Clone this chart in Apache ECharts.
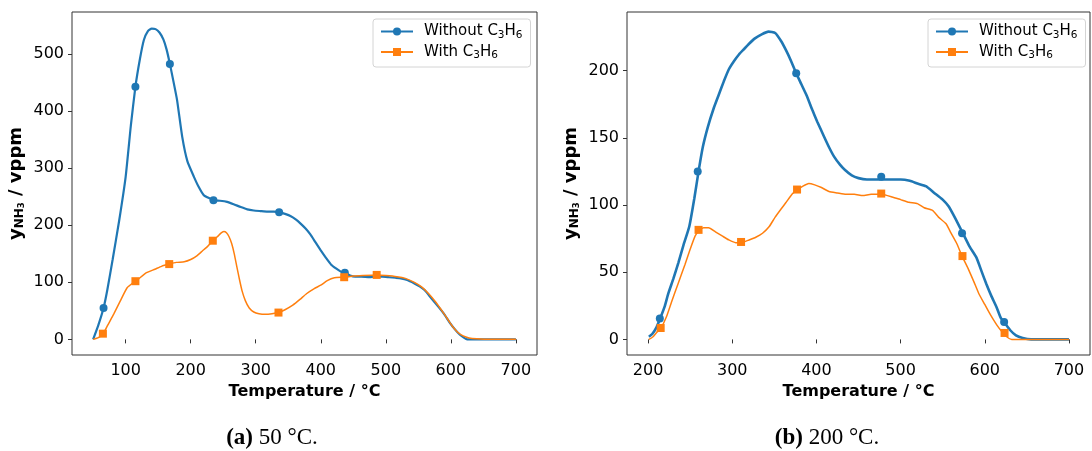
<!DOCTYPE html>
<html><head><meta charset="utf-8">
<script src="https://cdn.jsdelivr.net/npm/echarts@6/dist/echarts.min.js"></script>
<style>html,body{margin:0;padding:0;background:#fff}#c{width:1092px;height:451px}</style>
</head><body><div id="c"></div>
<script>
// ---------- Panel (a) 50 °C ----------
const xA_without = [50,58,66,72,80,90,100,108,115,122,128,134,140,146,152,158,163,168,173,179,187,195,205,212,220,235,245,256,266,277,287,297,307,318,328,336,345,354,362,369,377,384,392,400,408,416,424,432,437,445,453,462,475,485,495,505,515,523,533,544,552,560,570,581,590,598,606,614,620,625,635,650,700];
const yA_without = [0,25,55,88,140,208,285,375,443,492,525,540,545,544,538,526,508,483,455,420,355,312,285,268,253,244,243,241,237,232,228,226,225,224,224,223,220,216,210,203,194,184,170,156,143,131,124,118,117,112,110,110,109,110,110,109,108,107,104,98,93,86,72,57,44,30,18,8,3,0,0,0,0];
const xA_with = [50,58,65,72,82,92,102,110,115,122,132,145,155,167,178,190,200,210,218,226,234,241,246,251,255,259,263,267,271,275,279,284,290,297,305,315,325,335,345,357,368,378,390,400,410,421,436,450,465,486,500,517,530,544,555,566,577,587,596,603,610,619,628,640,660,700];
const yA_with = [0,3,9,24,45,68,90,98,101,108,117,123,128,132,135,136,140,147,155,163,173,180,186,189,187,180,168,150,127,105,85,68,55,48,45,44,45,47,52,60,70,80,89,95,103,108,109,111,112,113,112,110,107,100,92,80,65,49,34,22,13,6,2.5,1,0,0];
const mkA_without = [[66,55],[115,443],[168,483],[235,244],[336,223],[437,117]];
const mkA_with = [[65,10],[115,102],[167,132],[234,173],[335,47],[436,109],[486,113]];
const xTicksA = [100,200,300,400,500,600,700];
const yTicksA = [0,100,200,300,400,500];

// ---------- Panel (b) 200 °C ----------
const xB_without = [201,205,210,214,220,224,230,236,242,249,255,260,265,271,278,284,290,296,302,308,314,320,327,335,343,351,358,364,370,376,382,388,395,401,409,415,421,428,434,442,450,460,470,480,491,500,511,520,530,540,550,557,565,574,582,590,596,602,608,614,619,624,630,637,645,655,700];
const yB_without = [2,4,9,15,25,34,45,57,70,84,105,125,143,158,172,182,192,201,207,212,216,220,224,227,229,228,222,215,207,198,190,182,171,162,151,143,136,130,126,122,120,119,119,119,119,119,118,116,114,109,104,99,90,79,69,61,51,41,32,24,16,12,7,3,1,0,0];
const xB_with = [201,206,210,215,222,228,236,244,250,256,261,266,272,280,288,296,304,311,320,328,336,344,351,358,364,371,377,384,391,398,406,415,425,435,445,455,465,477,490,500,510,520,528,538,545,554,560,567,573,580,587,593,600,607,614,620,626,632,650,700];
const yB_with = [0,2,5,8,17,28,42,56,67,77,81,83,83,80,77,74,72,72,74,76,79,84,91,97,102,108,111,114,116,115,113,110,109,108,108,107,108,108,106,104,102,101,98,96,91,86,79,71,62,53,43,34,26,18,11,6,2,0,0,0];
const mkB_without = [[214,15.6],[259,125],[376,198],[477,121],[573,79],[623,13]];
const mkB_with = [[215,8.5],[260,81.5],[310.5,72.5],[377,111.5],[477,108.5],[573.5,62],[623.5,4.8]];
const xTicksB = [200,300,400,500,600,700];
const yTicksB = [0,50,100,150,200];

const names = ['Without C3H6','With C3H6'];
const BLUE = '#1f77b4', ORANGE = '#ff7f0e';
const zip = (xs, ys) => xs.map((x, i) => [x, ys[i]]);

const chart = echarts.init(document.getElementById('c'), null, {renderer: 'canvas'});
const F = 'DejaVu Sans';
const legendFmt = n => n === names[0] ? '{a|Without C}{s|3}{a|H}{s|6}' : '{a|With C}{s|3}{a|H}{s|6}';
function legend(left) {
  return {
    orient: 'vertical', left: left, top: 19, padding: [5, 8, 6, 7], itemGap: 4,
    itemWidth: 32, itemHeight: 10, data: names, formatter: legendFmt,
    backgroundColor: 'rgba(255,255,255,0.8)', borderColor: '#d4d4d4', borderWidth: 1, borderRadius: 3,
    textStyle: {padding: [0, 0, 0, 6], rich: {
      a: {fontFamily: F, fontSize: 15, color: '#000', lineHeight: 18},
      s: {fontFamily: F, fontSize: 10.5, color: '#000', lineHeight: 18, verticalAlign: 'bottom'}
    }}
  };
}
function xAx(gi, min, max, ticks) {
  return {
    type: 'value', gridIndex: gi, min: min, max: max,
    name: 'Temperature / °C', nameLocation: 'middle', nameGap: 29,
    nameTextStyle: {fontFamily: F, fontSize: 16, fontWeight: 'bold', color: '#000'},
    axisLine: {show: false}, splitLine: {show: false},
    axisTick: {show: true, length: 4, customValues: ticks, lineStyle: {color: '#333'}},
    axisLabel: {customValues: ticks, fontFamily: F, fontSize: 16, color: '#000', margin: 8}
  };
}
function yAx(gi, min, max, ticks) {
  return {
    type: 'value', gridIndex: gi, min: min, max: max,
    name: '{y|y}{n|NH}{t|3}{r| / vppm}', nameLocation: 'middle', nameRotate: 90, nameGap: 46,
    nameTextStyle: {rich: {
      y: {fontFamily: F, fontSize: 18, fontWeight: 'bold', color: '#000', lineHeight: 20},
      n: {fontFamily: F, fontSize: 12, fontWeight: 'bold', color: '#000', lineHeight: 20, verticalAlign: 'bottom'},
      t: {fontFamily: F, fontSize: 8.5, fontWeight: 'bold', color: '#000', lineHeight: 20, verticalAlign: 'bottom'},
      r: {fontFamily: F, fontSize: 18, fontWeight: 'bold', color: '#000', lineHeight: 20}
    }},
    axisLine: {show: false}, splitLine: {show: false},
    axisTick: {show: true, length: 4, customValues: ticks, lineStyle: {color: '#333'}},
    axisLabel: {customValues: ticks, fontFamily: F, fontSize: 16, color: '#000', margin: 8}
  };
}
function lineS(name, gi, data, color, sym, w) {
  return {type: 'line', name: name, xAxisIndex: gi, yAxisIndex: gi, data: data,
    showSymbol: false, symbol: sym, symbolSize: 8, smooth: 0.15,
    lineStyle: {color: color, width: w}, itemStyle: {color: color}, animation: false, z: 2};
}
function markS(gi, data, color, sym, size) {
  return {type: 'scatter', name: 'mk', xAxisIndex: gi, yAxisIndex: gi, data: data,
    symbol: sym, symbolSize: size, itemStyle: {color: color, opacity: 1}, animation: false, z: 3};
}
const serifRich = {
  b: {fontFamily: 'Liberation Serif', fontSize: 23, fontWeight: 'bold', color: '#000'},
  n: {fontFamily: 'Liberation Serif', fontSize: 23, color: '#000'}
};
chart.setOption({
  animation: false,
  backgroundColor: '#fff',
  grid: [
    {left: 72, top: 12, width: 465, height: 343, show: true, borderColor: '#333', borderWidth: 1, backgroundColor: 'transparent', containLabel: false, outerBoundsMode: 'none'},
    {left: 627, top: 12, width: 463, height: 343, show: true, borderColor: '#333', borderWidth: 1, backgroundColor: 'transparent', containLabel: false, outerBoundsMode: 'none'}
  ],
  xAxis: [xAx(0, 17.5, 732.5, xTicksA), xAx(1, 175, 725, xTicksB)],
  yAxis: [yAx(0, -27.4, 574, yTicksA), yAx(1, -11.6, 243.6, yTicksB)],
  legend: [legend(373), legend(928)],
  series: [
    lineS(names[0], 0, zip(xA_without, yA_without), BLUE, 'circle', 2.2),
    lineS(names[1], 0, zip(xA_with, yA_with), ORANGE, 'rect', 1.5),
    markS(0, mkA_without, BLUE, 'circle', 8),
    markS(0, mkA_with, ORANGE, 'rect', 8),
    lineS(names[0], 1, zip(xB_without, yB_without), BLUE, 'circle', 2.6),
    lineS(names[1], 1, zip(xB_with, yB_with), ORANGE, 'rect', 1.5),
    markS(1, mkB_without, BLUE, 'circle', 8),
    markS(1, mkB_with, ORANGE, 'rect', 8)
  ],
  graphic: [
    {type: 'text', x: 272, y: 438, style: {text: '{b|(a)}{n| 50 °C.}', rich: serifRich, align: 'center', verticalAlign: 'middle', textAlign: 'center', textVerticalAlign: 'middle'}},
    {type: 'text', x: 827, y: 438, style: {text: '{b|(b)}{n| 200 °C.}', rich: serifRich, align: 'center', verticalAlign: 'middle', textAlign: 'center', textVerticalAlign: 'middle'}}
  ]
});
</script></body></html>
